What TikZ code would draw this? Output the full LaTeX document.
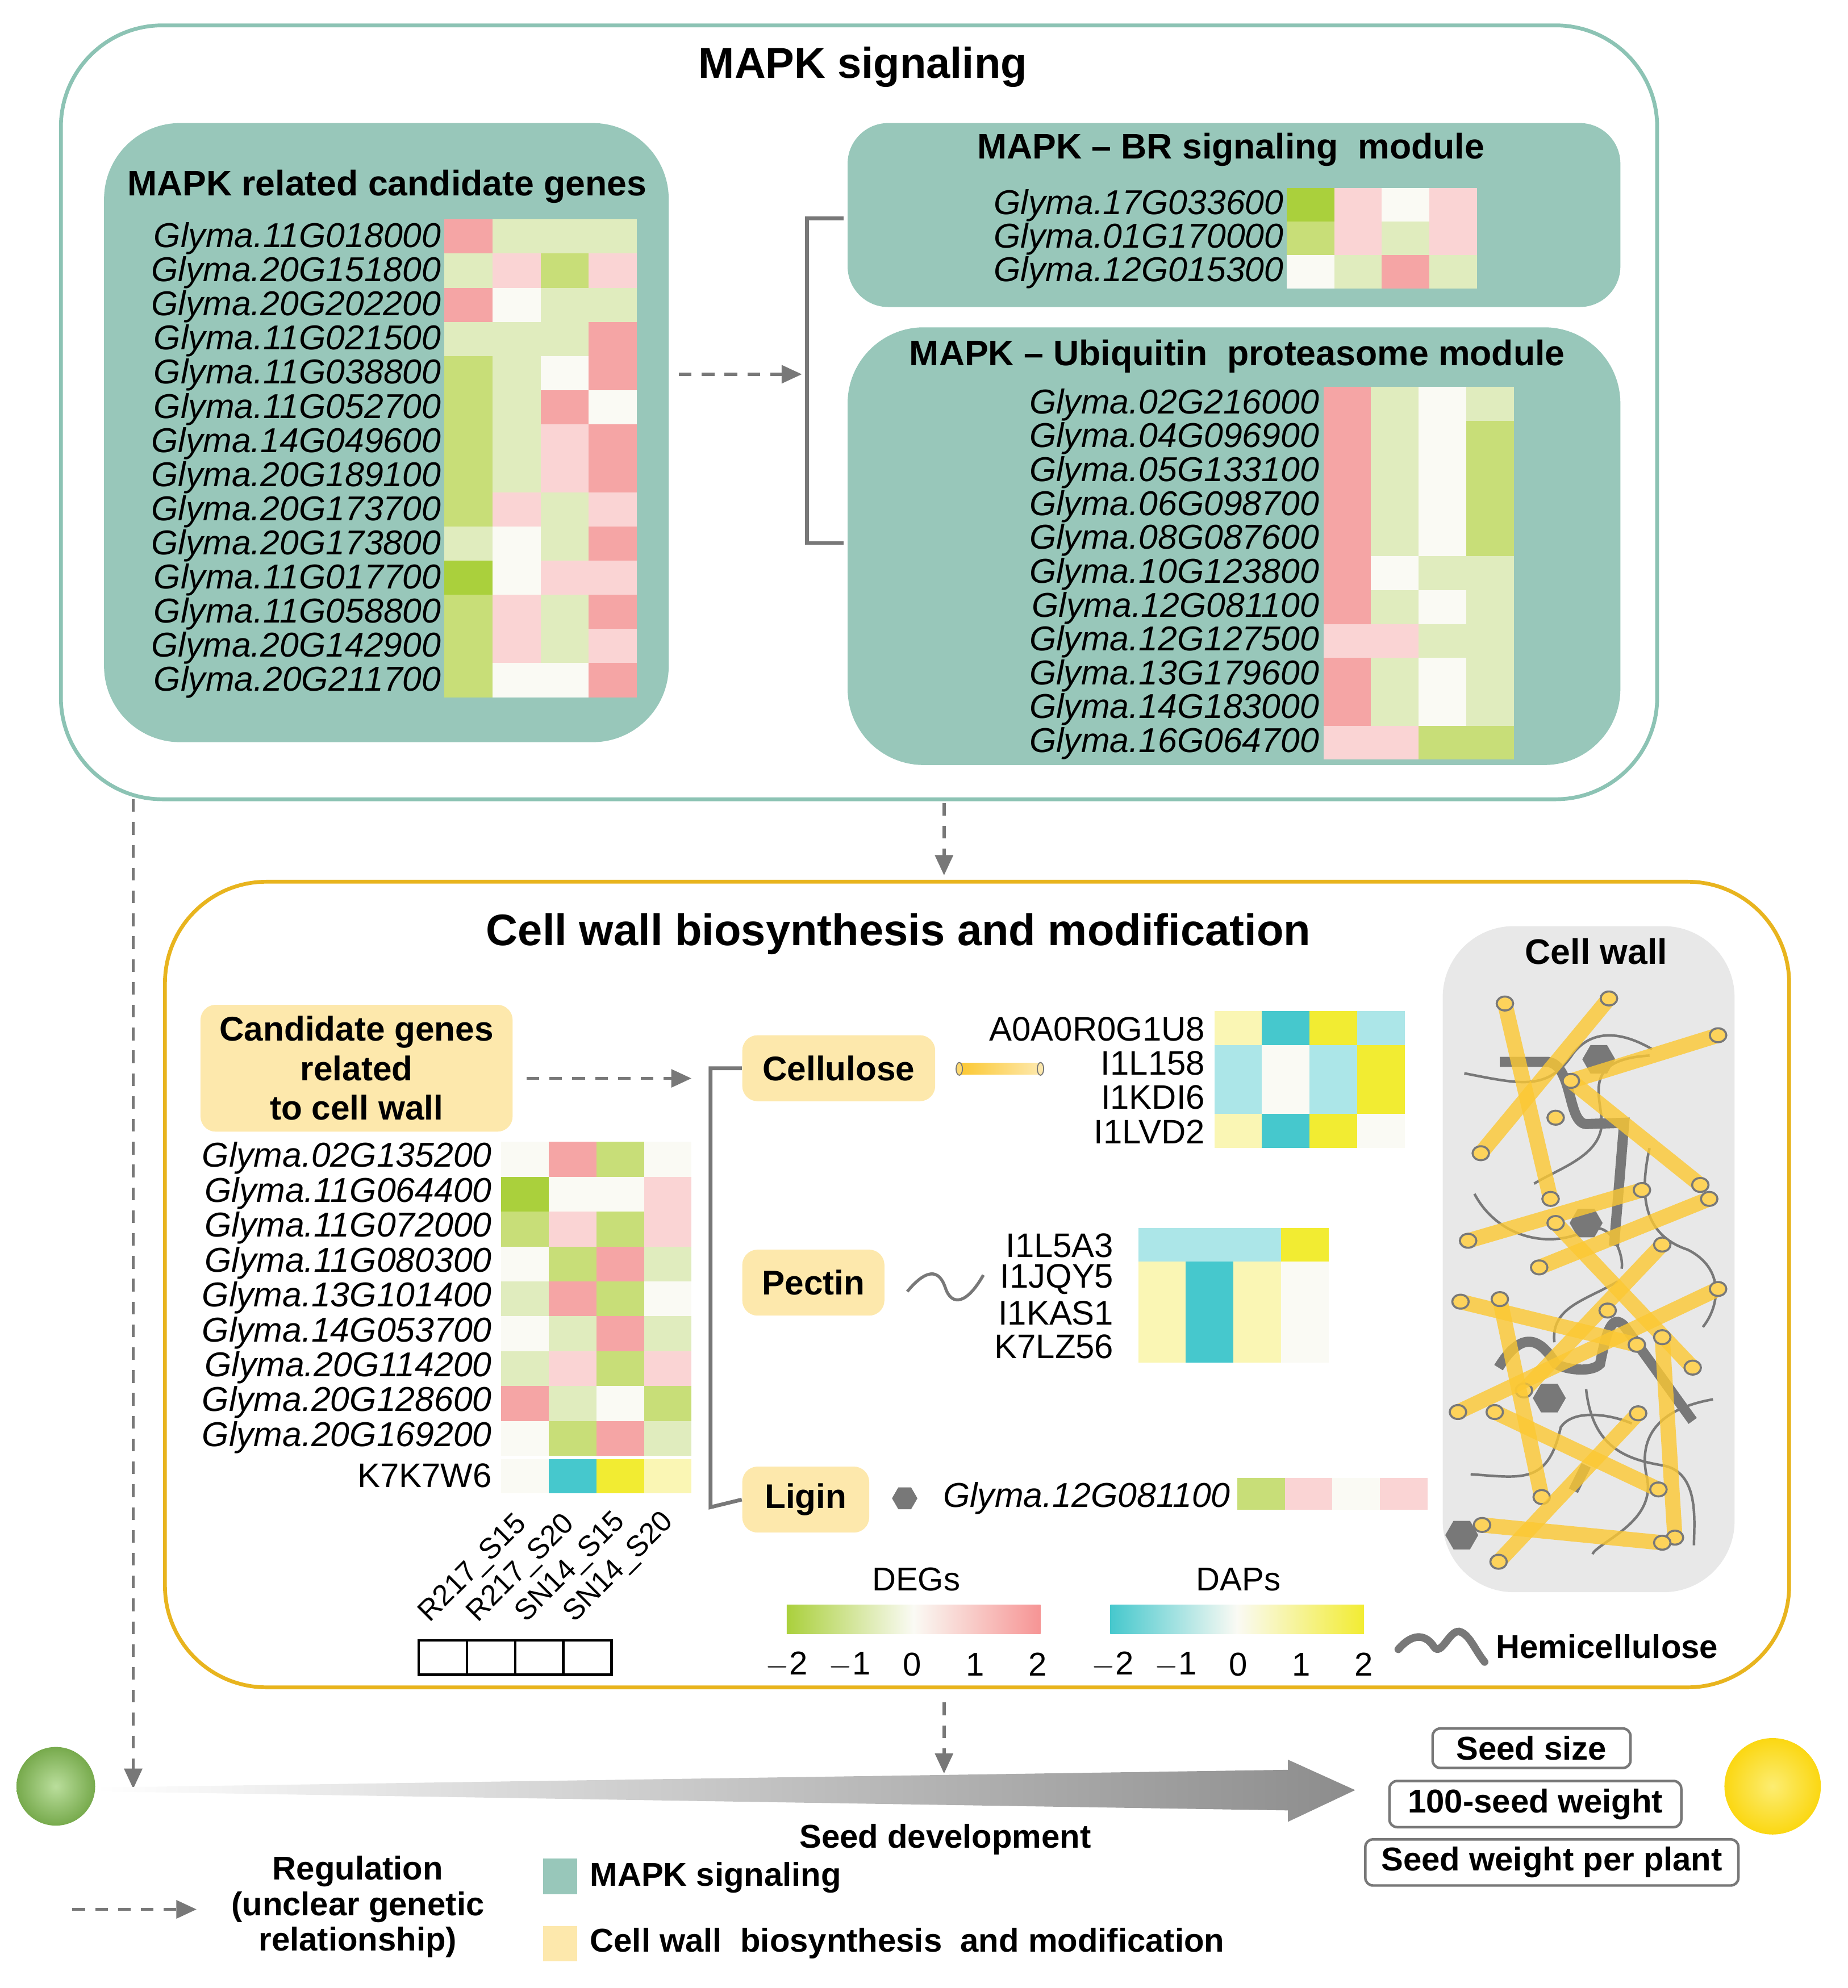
\documentclass[tikz,border=0pt]{standalone}
\usepackage{fontspec}
\setmainfont{Liberation Sans}
\usetikzlibrary{arrows.meta,shapes.geometric}
\definecolor{teal}{RGB}{152,199,186}
\definecolor{tealb}{RGB}{140,195,180}
\definecolor{gold}{RGB}{232,180,30}
\definecolor{lyel}{RGB}{253,232,172}
\definecolor{G}{RGB}{170,208,60}
\definecolor{g2}{RGB}{200,222,120}
\definecolor{g1}{RGB}{224,236,190}
\definecolor{P}{RGB}{245,165,165}
\definecolor{p}{RGB}{250,212,212}
\definecolor{w}{RGB}{250,250,244}
\definecolor{C}{RGB}{70,200,205}
\definecolor{c}{RGB}{172,230,232}
\definecolor{Y}{RGB}{242,236,50}
\definecolor{y}{RGB}{250,246,180}
\definecolor{rodc}{RGB}{252,200,50}
\definecolor{gr}{RGB}{120,120,120}
\definecolor{seedg}{RGB}{140,200,90}
\definecolor{seedy}{RGB}{250,225,20}
\newcommand\myfs[1]{\fontsize{#1}{#1}\selectfont}
\newcommand\hrow[5]{\edef\tmplist{#5}\foreach \cc [count=\i from 0] in \tmplist {\fill[fill=\cc] ({#1+\i*#3},#2) rectangle ++(#3,#4);}}
\newcommand\rod[2]{\draw[rodc,opacity=0.8,line width=6pt] #1 -- #2;
  \draw[gr,fill=rodc!80!white,line width=0.8pt] #1 circle[x radius=6.5,y radius=5.5]; \draw[gr,fill=rodc!80!white,line width=0.8pt] #2 circle[x radius=6.5,y radius=5.5];}
\tikzset{
 gene/.style={anchor=east,font=\myfs{13.6}\itshape,inner sep=0},
 pid/.style={anchor=east,font=\myfs{13.4},inner sep=0},
 ttl/.style={font=\myfs{14}\bfseries},
 darr/.style={gr,line width=1.3pt,dash pattern=on 5pt off 4pt,-{Triangle[length=8pt,width=7pt]}},
 sbox/.style={draw=gr,line width=1pt,rounded corners=3pt,font=\myfs{13}\bfseries,inner sep=3pt},
 cat/.style={fill=lyel,rounded corners=6pt,font=\myfs{13.5}\bfseries,inner sep=0},
}
\begin{document}
\begin{tikzpicture}[x=0.5pt,y=-0.5pt]
\useasboundingbox (0,0) rectangle (1456,1567);
% ===== MAPK panel
\draw[tealb,line width=1.5pt,fill=white,rounded corners=40pt] (48,20) rectangle (1306,630);
\node[font=\myfs{17}\bfseries] (mt) at (680,53) {MAPK signaling};
\fill[teal,rounded corners=30pt] (82,97) rectangle (527,585);
\node[ttl] (rt) at (305,147) {MAPK related candidate genes};
\foreach \g/\cl [count=\k from 0] in {11G018000/{P,g1,g1,g1},20G151800/{g1,p,g2,p},20G202200/{P,w,g1,g1},11G021500/{g1,g1,g1,P},11G038800/{g2,g1,w,P},11G052700/{g2,g1,P,w},14G049600/{g2,g1,p,P},20G189100/{g2,g1,p,P},20G173700/{g2,p,g1,p},20G173800/{g1,w,g1,P},11G017700/{G,w,p,p},11G058800/{g2,p,g1,P},20G142900/{g2,p,g1,p},20G211700/{g2,w,w,P}}{
  \hrow{350}{173+\k*26.9}{38}{26.9}{\cl}
  \node[gene] at (348,188+\k*26.9) {Glyma.\g};}
% BR module
\fill[teal,rounded corners=16pt] (668,97) rectangle (1277,242);
\node[ttl] (bt) at (970,118) {MAPK {\normalfont\bfseries –} BR signaling\ \ module};
\foreach \g/\cl [count=\k from 0] in {17G033600/{G,p,w,p},01G170000/{g2,p,g1,p},12G015300/{w,g1,P,g1}}{
  \hrow{1014}{148+\k*26.5}{37.5}{26.5}{\cl}
  \node[gene] at (1012,162+\k*26.5) {Glyma.\g};}
% Ubiquitin module
\fill[teal,rounded corners=30pt] (668,258) rectangle (1277,603);
\node[ttl] (ut) at (975,281) {MAPK {\normalfont\bfseries –} Ubiquitin\ \ proteasome module};
\foreach \g/\cl [count=\k from 0] in {02G216000/{P,g1,w,g1},04G096900/{P,g1,w,g2},05G133100/{P,g1,w,g2},06G098700/{P,g1,w,g2},08G087600/{P,g1,w,g2},10G123800/{P,w,g1,g1},12G081100/{P,g1,w,g1},12G127500/{p,p,g1,g1},13G179600/{P,g1,w,g1},14G183000/{P,g1,w,g1},16G064700/{p,p,g2,g2}}{
  \hrow{1043}{305+\k*26.7}{37.5}{26.7}{\cl}
  \node[gene] at (1040,319+\k*26.7) {Glyma.\g};}
\draw[gr,line width=1.5pt] (665,172) -- (636,172) -- (636,428) -- (665,428);
\coordinate (a1) at (535,295); \coordinate (a2) at (632,295);
\draw[darr] (a1) -- (a2);
% arrows between panels
\coordinate (b1) at (744,633); \coordinate (b2) at (744,690);
\draw[darr] (b1) -- (b2);
\coordinate (l1) at (105,630); \coordinate (l2) at (105,1410);
\draw[darr] (l1) -- (l2);
% ===== Cell wall panel
\draw[gold,line width=1.5pt,rounded corners=40pt] (130,695) rectangle (1410,1330);
\node[font=\myfs{17.4}\bfseries] (ct) at (708,736) {Cell wall biosynthesis and modification};
\node[cat,minimum width=123pt,minimum height=50pt,align=center,font=\myfs{13.5}\bfseries] (cg) at (281,842) {Candidate genes\\[2pt]related\\[2pt]to cell wall};
\coordinate (c1) at (415,850); \coordinate (c2) at (545,850);
\draw[darr] (c1) -- (c2);
\foreach \g/\cl [count=\k from 0] in {02G135200/{w,P,g2,w},11G064400/{G,w,w,p},11G072000/{g2,p,g2,p},11G080300/{w,g2,P,g1},13G101400/{g1,P,g2,w},14G053700/{w,g1,P,g1},20G114200/{g1,p,g2,p},20G128600/{P,g1,w,g2},20G169200/{w,g2,P,g1}}{
  \hrow{395}{900+\k*27.5}{37.5}{27.5}{\cl}
  \node[gene] at (388,913+\k*27.5) {Glyma.\g};}
\hrow{395}{1150}{37.5}{27}{w,C,Y,y}
\node[pid] at (388,1163) {K7K7W6};
\foreach \s [count=\k from 0] in {R217\_S15,R217\_S20,SN14\_S15,SN14\_S20}{
  \node[font=\myfs{11.5},rotate=45,anchor=south west,inner sep=0] at (342+\k*38,1283) {\s};
  \draw[line width=1pt] (330+\k*38,1293) rectangle ++(38,27);}
% categories
\node[cat,minimum width=76pt,minimum height=26pt] (cel) at (661,842) {Cellulose};
\node[cat,minimum width=56pt,minimum height=26pt] (pec) at (641,1011) {Pectin};
\node[cat,minimum width=50pt,minimum height=26pt] (lig) at (635,1182) {Ligin};
\draw[gr,line width=1.5pt] (cel.west) -- (560,842) -- (560,1188) -- (lig.west);
% cellulose
\shade[left color=rodc,right color=lyel] (756,838) rectangle (820,847);
\draw[gr,fill=rodc!70!white] (756,842.5) ellipse (2.5 and 5); \draw[gr,fill=lyel] (820,842.5) ellipse (2.5 and 5);
\foreach \g/\cl [count=\k from 0] in {A0A0R0G1U8/{y,C,Y,c},I1L158/{c,w,c,Y},I1KDI6/{c,w,c,Y},I1LVD2/{y,C,Y,w}}{
  \hrow{957}{797+\k*27}{37.5}{27}{\cl}
  \node[pid] at (950,811+\k*27) {\g};}
% pectin
\draw[gr,line width=1.2pt] (715,1018) .. controls (730,1000) and (740,1000) .. (745,1015) .. controls (750,1030) and (762,1028) .. (775,1005);
\foreach \g/\cl [count=\k from 0] in {I1L5A3/{c,c,c,Y},I1JQY5/{y,C,y,w},I1KAS1/{y,C,y,w},K7LZ56/{y,C,y,w}}{
  \hrow{897}{968+\k*26.5}{37.5}{26.5}{\cl}
  \node[pid] at (878,982+\k*26.5) {\g};}
% lignin
\node[regular polygon,regular polygon sides=6,fill=gr,minimum size=10pt,inner sep=0] (hx) at (713,1181) {};
\node[gene] at (970,1181) {Glyma.12G081100};
\hrow{975}{1165}{37.5}{25}{g2,p,w,p}
% legends
\node[font=\myfs{13}] (dg) at (722,1245) {DEGs};
\shade[left color=G,right color=w] (620,1265) rectangle (720,1288);
\shade[left color=w,right color=P!90!red] (720,1265) rectangle (820,1288);
\foreach \t [count=\k from 0] in {$-$2,$-$1,0,1,2}{\node[font=\myfs{13}] at (620+\k*49.5,1312) {\t};}
\node[font=\myfs{13}] (dp) at (976,1245) {DAPs};
\shade[left color=C,right color=w] (875,1265) rectangle (975,1288);
\shade[left color=w,right color=Y] (975,1265) rectangle (1075,1288);
\foreach \t [count=\k from 0] in {$-$2,$-$1,0,1,2}{\node[font=\myfs{13}] at (877+\k*49.5,1312) {\t};}
\draw[gr,line width=3pt,line cap=round] (1102,1300) .. controls (1115,1285) and (1125,1290) .. (1130,1298) .. controls (1136,1306) and (1142,1285) .. (1150,1286) .. controls (1158,1288) and (1162,1300) .. (1170,1310);
\node[font=\myfs{13}\bfseries,anchor=west] (hm) at (1172,1298) {Hemicellulose};
% cell wall picture
\fill[black!9,rounded corners=28pt] (1137,730) rectangle (1367,1255);
\node[ttl] (cw) at (1258,750) {Cell wall};
\begin{scope}
\draw[gr,line width=1pt] (1154,846) .. controls (1200,855) and (1220,860) .. (1240,830) .. controls (1260,805) and (1290,820) .. (1302,827);
\draw[gr,line width=1pt] (1300,832) .. controls (1250,835) and (1260,860) .. (1262,880) .. controls (1266,910) and (1230,920) .. (1209,933);
\draw[gr,line width=1pt] (1162,941) .. controls (1180,975) and (1220,985) .. (1250,970) .. controls (1270,960) and (1280,990) .. (1278,1000);
\draw[gr,line width=1pt] (1300,905) .. controls (1290,950) and (1300,975) .. (1330,985) .. controls (1360,1000) and (1355,1030) .. (1342,1046);
\draw[gr,line width=1pt] (1225,1058) .. controls (1222,1030) and (1250,1025) .. (1275,1010);
\draw[gr,line width=1pt] (1159,1162) .. controls (1200,1165) and (1220,1170) .. (1230,1125) .. controls (1240,1110) and (1270,1115) .. (1286,1122);
\draw[gr,line width=1pt] (1250,1095) .. controls (1255,1140) and (1280,1150) .. (1310,1155) .. controls (1340,1160) and (1335,1200) .. (1335,1218);
\draw[gr,line width=1pt] (1350,1103) .. controls (1310,1110) and (1290,1130) .. (1298,1165) .. controls (1305,1200) and (1260,1215) .. (1255,1225);
\draw[gr,line width=4pt] (1182,837) -- (1220,837) .. controls (1240,840) and (1235,885) .. (1250,886) -- (1280,885) -- (1272,982);
\draw[gr,line width=4pt] (1181,1078) .. controls (1195,1055) and (1210,1048) .. (1226,1075) .. controls (1235,1080) and (1255,1082) .. (1261,1075) .. controls (1266,1050) and (1270,1035) .. (1280,1045) -- (1334,1120);
\draw[gr,line width=4pt] (1240,1175) -- (1250,1155);
\foreach \p in {(1260,835),(1221,1102),(1152,1210),(1250,964)}{\node[regular polygon,regular polygon sides=6,fill=gr,minimum size=13pt,inner sep=0] at \p {};}
\rod{(1186,791)}{(1222,945)}
\rod{(1268,787)}{(1167,909)}
\rod{(1354,816)}{(1238,852)}
\rod{(1238,852)}{(1340,934)}
\rod{(1294,938)}{(1157,978)}
\rod{(1347,945)}{(1213,999)}
\rod{(1226,964)}{(1334,1078)}
\rod{(1151,1026)}{(1290,1060)}
\rod{(1310,981)}{(1201,1096)}
\rod{(1354,1016)}{(1149,1113)}
\rod{(1182,1024)}{(1215,1180)}
\rod{(1310,1054)}{(1320,1212)}
\rod{(1178,1113)}{(1307,1174)}
\rod{(1291,1114)}{(1181,1231)}
\rod{(1168,1202)}{(1310,1216)}
\draw[gr,fill=rodc!80!white,line width=0.8pt] (1226,881) circle[x radius=6.5,y radius=5.5];
\draw[gr,fill=rodc!80!white,line width=0.8pt] (1267,1033) circle[x radius=6.5,y radius=5.5];
\end{scope}
% ===== bottom
\coordinate (d1) at (744,1342); \coordinate (d2) at (744,1398);
\draw[darr] (d1) -- (d2);
\shade[left color=white,right color=black!45] (75,1409) -- (1015,1395) -- (1015,1387) -- (1068,1411) -- (1015,1436) -- (1015,1427) -- (75,1412) -- cycle;
\shade[inner color=seedg!60!white,outer color=seedg!85!black] (44,1408) circle (31);
\shade[inner color=seedy!60!white,outer color=seedy!90!orange] (1397,1408) circle (38);
\node[font=\myfs{13}\bfseries] (sd) at (745,1450) {Seed development};
\node[sbox,minimum width=78pt] (s1) at (1207,1378) {Seed size};
\node[sbox,minimum width=115pt] (s2) at (1210,1422) {100-seed weight};
\node[sbox,minimum width=147pt] (s3) at (1223,1468) {Seed weight per plant};
\node[font=\myfs{13}\bfseries,align=center] (rg) at (282,1503) {Regulation\\[1pt](unclear genetic\\[1pt]relationship)};
\coordinate (e1) at (57,1505); \coordinate (e2) at (155,1505);
\draw[darr] (e1) -- (e2);
\fill[teal] (428,1465) rectangle (455,1493);
\node[font=\myfs{13}\bfseries,anchor=west] (lm) at (458,1480) {MAPK signaling};
\fill[lyel] (428,1518) rectangle (455,1546);
\node[font=\myfs{13}\bfseries,anchor=west] (lc) at (458,1532) {Cell wall\ \ biosynthesis\ \ and modification};
\end{tikzpicture}
\end{document}
